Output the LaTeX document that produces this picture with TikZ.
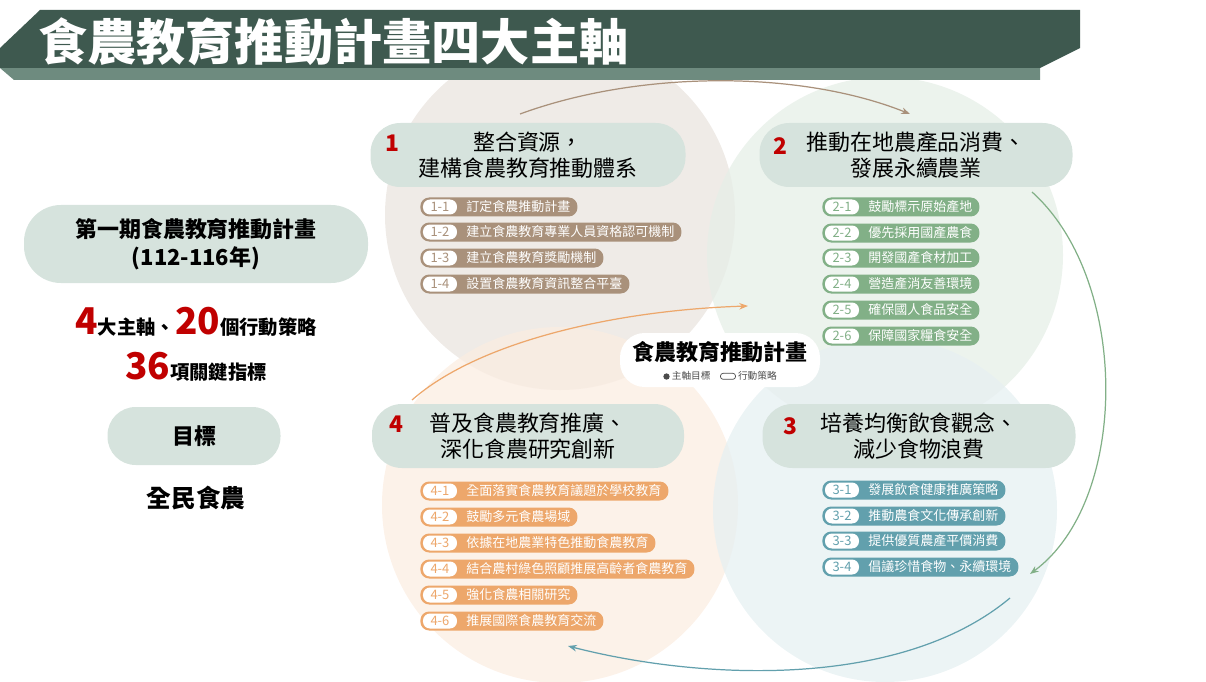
\documentclass[tikz,border=0pt]{standalone}
\usepackage{fontspec}
\setmainfont{Noto Sans CJK TC}
\usetikzlibrary{arrows.meta, positioning, calc}
\definecolor{bardark}{HTML}{3E594F}
\definecolor{barlight}{HTML}{6E8B7F}
\definecolor{headfill}{HTML}{D6E3DD}
\definecolor{cbrown}{HTML}{A9917B}
\definecolor{cgreen}{HTML}{82B087}
\definecolor{cblue}{HTML}{62A0AD}
\definecolor{corange}{HTML}{EDA76B}
\definecolor{redno}{HTML}{C00000}
\tikzset{
  headpill/.style={fill=headfill, rounded corners=17pt, minimum height=64*0.02cm, align=center, font=\fontsize{12.5}{15}\selectfont},
  actbox/.style={fill=#1, text=white, rounded corners=5pt, minimum height=19*0.02cm, inner ysep=0pt, inner xsep=4pt, font=\fontsize{7.4}{9}\selectfont, anchor=west},
  numtag/.style={fill=white, text=#1, rounded corners=4pt, minimum height=15*0.02cm, minimum width=34*0.02cm, inner sep=0pt, font=\fontsize{7.4}{9}\selectfont, anchor=west},
  arc/.style={draw=#1, line width=0.7pt, -{Stealth[length=5pt]}}
}
\newcommand{\act}[5]{%
  \node[actbox=#2] (t#1) at (#3) {\hspace{0.78cm}#5};
  \node[numtag=#2] (n#1) at ([xshift=1.5pt]t#1.west) {#4};}
\begin{document}
\begin{tikzpicture}[x=0.02cm, y=-0.02cm]
  \useasboundingbox (0,0) rectangle (1206,682);
  % circles
  \fill[cbrown!18] (560,215) circle (175);
  \fill[cgreen!20, opacity=0.75] (885,255) circle (178);
  \fill[corange!20, opacity=0.75] (560,505) circle (178);
  \fill[cblue!16, opacity=0.75] (885,510) circle (172);
  % title bar
  \fill[barlight] (0,68) -- (14,80) -- (1040,80) -- (1040,68) -- cycle;
  \fill[bardark] (0,48) -- (40,10) -- (1080,10) -- (1080,48) -- (1040,68) -- (0,68) -- cycle;
  \node[anchor=west, text=white, font=\fontsize{28}{32}\selectfont\bfseries] (title) at (32,42) {食農教育推動計畫四大主軸};
  % connectors round the circles
  \coordinate (a1) at (520,114); \coordinate (a2) at (910,114);
  \coordinate (b1) at (1032,192); \coordinate (b2) at (1030,574);
  \coordinate (c1) at (1010,598); \coordinate (c2) at (568,646);
  \coordinate (d1) at (412,400); \coordinate (d2) at (748,306);
  \draw[arc=cbrown] (a1) .. controls (640,70) and (800,70) .. (a2);
  \draw[arc=cgreen] (b1) .. controls (1130,280) and (1130,500) .. (b2);
  \draw[arc=cblue] (c1) .. controls (900,690) and (700,680) .. (c2);
  \draw[arc=corange] (d1) .. controls (480,340) and (620,310) .. (d2);
  % left column
  \node[headpill, minimum width=344*0.02cm, minimum height=78*0.02cm, rounded corners=21pt, font=\fontsize{12.5}{16}\selectfont\bfseries] (plan) at (196,244) {第一期食農教育推動計畫\\(112-116年)};
  \node[font=\fontsize{11}{13}\selectfont\bfseries] (axes) at (196,322) {\textcolor{redno}{\fontsize{21}{24}\selectfont 4}大主軸、\textcolor{redno}{\fontsize{21}{24}\selectfont 20}個行動策略};
  \node[font=\fontsize{11}{13}\selectfont\bfseries] (kpi) at (196,367) {\textcolor{redno}{\fontsize{21}{24}\selectfont 36}項關鍵指標};
  \node[headpill, minimum width=173*0.02cm, minimum height=58*0.02cm, rounded corners=16pt, font=\fontsize{12.5}{15}\selectfont\bfseries] (goal) at (194,436) {目標};
  \node[font=\fontsize{14}{17}\selectfont\bfseries] (all) at (196,498) {全民食農};
  % centre label
  \node[fill=white, rounded corners=14pt, minimum width=200*0.02cm, minimum height=54*0.02cm] (core) at (720,360) {};
  \node[font=\fontsize{12.5}{15}\selectfont\bfseries] (coret) at (720,352) {食農教育推動計畫};
  \node[font=\fontsize{5.5}{6}\selectfont, text=black!70] (corel) at (720,376) {\tikz[x=1cm,y=1cm]\fill (0,0) circle (1.8pt); 主軸目標\quad\tikz[x=1cm,y=1cm]\draw[rounded corners=1.5pt] (0,0) rectangle (0.3,0.12); 行動策略};
  % axis headers
  \node[headpill, minimum width=315*0.02cm] (h1) at (528,155) {整合資源，\\建構食農教育推動體系};
  \node[text=redno, font=\fontsize{13}{15}\selectfont\bfseries] (k1) at (392,143) {1};
  \node[headpill, minimum width=313*0.02cm] (h2) at (916,155) {推動在地農產品消費、\\發展永續農業};
  \node[text=redno, font=\fontsize{13}{15}\selectfont\bfseries] (k2) at (780,146) {2};
  \node[headpill, minimum width=313*0.02cm] (h3) at (919,436) {培養均衡飲食觀念、\\減少食物浪費};
  \node[text=redno, font=\fontsize{13}{15}\selectfont\bfseries] (k3) at (790,426) {3};
  \node[headpill, minimum width=312*0.02cm] (h4) at (528,436) {普及食農教育推廣、\\深化食農研究創新};
  \node[text=redno, font=\fontsize{13}{15}\selectfont\bfseries] (k4) at (396,424) {4};
  % strategies
  \act{11}{cbrown}{420,207}{1-1}{訂定食農推動計畫}
  \act{12}{cbrown}{420,232}{1-2}{建立食農教育專業人員資格認可機制}
  \act{13}{cbrown}{420,258}{1-3}{建立食農教育獎勵機制}
  \act{14}{cbrown}{420,284}{1-4}{設置食農教育資訊整合平臺}
  \act{21}{cgreen}{822,207}{2-1}{鼓勵標示原始產地}
  \act{22}{cgreen}{822,233}{2-2}{優先採用國產農食}
  \act{23}{cgreen}{822,258}{2-3}{開發國產食材加工}
  \act{24}{cgreen}{822,284}{2-4}{營造產消友善環境}
  \act{25}{cgreen}{822,310}{2-5}{確保國人食品安全}
  \act{26}{cgreen}{822,336}{2-6}{保障國家糧食安全}
  \act{31}{cblue}{822,490}{3-1}{發展飲食健康推廣策略}
  \act{32}{cblue}{822,516}{3-2}{推動農食文化傳承創新}
  \act{33}{cblue}{822,541}{3-3}{提供優質農產平價消費}
  \act{34}{cblue}{822,567}{3-4}{倡議珍惜食物、永續環境}
  \act{41}{corange}{420,491}{4-1}{全面落實食農教育議題於學校教育}
  \act{42}{corange}{420,517}{4-2}{鼓勵多元食農場域}
  \act{43}{corange}{420,543}{4-3}{依據在地農業特色推動食農教育}
  \act{44}{corange}{420,569}{4-4}{結合農村綠色照顧推展高齡者食農教育}
  \act{45}{corange}{420,595}{4-5}{強化食農相關研究}
  \act{46}{corange}{420,621}{4-6}{推展國際食農教育交流}
\end{tikzpicture}
\end{document}
